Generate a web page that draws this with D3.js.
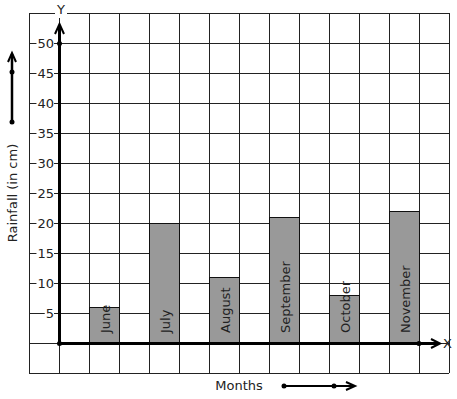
<!DOCTYPE html>
<html>
<head>
<meta charset="utf-8">
<script src="https://cdn.jsdelivr.net/npm/d3@7"></script>
<style>
  body { margin: 0; background: #fff; }
  text { font-family: "DejaVu Sans", sans-serif; font-size: 13px; fill: #222; }
</style>
</head>
<body>
<div id="chart"></div>
<script>
var months = ['June', 'July', 'August', 'September', 'October', 'November'];
var rainfall = [6, 20, 11, 21, 8, 22];
var yTicks = [5, 10, 15, 20, 25, 30, 35, 40, 45, 50];

var width = 457, height = 399;

// grid units: one column = 1 unit, one row = 5 cm
var x = d3.scaleLinear().domain([-1, 13]).range([29, 449]);
var y = d3.scaleLinear().domain([-5, 55]).range([373, 13]);

var svg = d3.select('#chart').append('svg')
    .attr('width', width).attr('height', height);

// grid
var grid = svg.append('g').attr('stroke', '#222').attr('stroke-width', 1).attr('shape-rendering', 'crispEdges');
grid.selectAll('.v').data(d3.range(-1, 14)).enter().append('line')
    .attr('x1', function(d) { return x(d) + 0.5; }).attr('x2', function(d) { return x(d) + 0.5; })
    .attr('y1', y(55)).attr('y2', y(-5));
grid.selectAll('.h').data(d3.range(-5, 56, 5)).enter().append('line')
    .attr('y1', function(d) { return y(d) + 0.5; }).attr('y2', function(d) { return y(d) + 0.5; })
    .attr('x1', x(-1)).attr('x2', x(13));

// bars
svg.selectAll('.bar').data(rainfall).enter().append('rect')
    .attr('class', 'bar')
    .attr('x', function(d, i) { return x(1 + 2 * i) + 0.5; })
    .attr('width', x(1) - x(0))
    .attr('y', function(d) { return y(d) + 0.5; })
    .attr('height', function(d) { return y(0) - y(d); })
    .attr('fill', '#999').attr('stroke', '#111').attr('stroke-width', 1);

// bar labels, rotated
svg.selectAll('.blabel').data(months).enter().append('text')
    .attr('transform', function(d, i) {
	return 'translate(' + (x(1.5 + 2 * i) + 1) + ',' + (y(0) - 10) + ') rotate(-90)';
    })
    .attr('dy', '0.36em')
    .text(function(d) { return d; });

// y tick labels with white backgrounds
var yAxis = svg.append('g').attr('transform', 'translate(54,0)')
    .call(d3.axisLeft(y).tickValues(yTicks).tickSize(0).tickPadding(0));
yAxis.select('.domain').remove();
yAxis.selectAll('text').attr('font-size', 13).attr('font-family', '"DejaVu Sans", sans-serif').attr('fill', '#222');
yAxis.selectAll('.tick').each(function() {
    var t = d3.select(this).select('text');
    var b = t.node().getBBox();
    d3.select(this).insert('rect', 'text')
	.attr('x', b.x - 1).attr('y', -3).attr('width', b.width + 1).attr('height', 6)
	.attr('fill', '#fff');
});

// axes
var ax = svg.append('g').attr('stroke', '#000').attr('stroke-width', 3).attr('fill', 'none');
ax.append('line').attr('x1', x(0) + 0.5).attr('x2', x(0) + 0.5).attr('y1', y(0)).attr('y2', 25);
ax.append('path').attr('stroke-width', 2).attr('d', 'M' + (x(0) - 4) + ',34 L' + (x(0) + 0.5) + ',24 L' + (x(0) + 5) + ',34');
ax.append('line').attr('x1', x(0)).attr('x2', 439).attr('y1', y(0) + 0.5).attr('y2', y(0) + 0.5);
ax.append('path').attr('stroke-width', 2).attr('d', 'M431,' + (y(0) - 4) + ' L440,' + (y(0) + 0.5) + ' L431,' + (y(0) + 5));

var dots = [[x(0) + 0.5, y(0) + 0.5], [x(0) + 0.5, y(50) + 0.5], [x(12), y(0) + 0.5]];
svg.selectAll('.dot').data(dots).enter().append('circle')
    .attr('cx', function(d) { return d[0]; }).attr('cy', function(d) { return d[1]; })
    .attr('r', 2.5).attr('fill', '#000');

// axis letters
var yl = svg.append('g');
yl.append('rect').attr('x', 55).attr('y', 8).attr('width', 12).attr('height', 10).attr('fill', '#fff');
yl.append('text').attr('x', 61).attr('y', 14).attr('text-anchor', 'middle').text('Y');
svg.append('text').attr('x', 443).attr('y', y(0) + 5).text('X');

// y title + arrow
svg.append('text').attr('transform', 'translate(12,193) rotate(-90)')
    .attr('text-anchor', 'middle').attr('dy', '0.36em').text('Rainfall (in cm)');
var la = svg.append('g').attr('stroke', '#000').attr('stroke-width', 2.5).attr('fill', 'none');
la.append('line').attr('x1', 12).attr('x2', 12).attr('y1', 122).attr('y2', 54);
la.append('path').attr('stroke-width', 2).attr('d', 'M8,62 L12,53 L16,62');
svg.selectAll('.ld').data([122, 72]).enter().append('circle')
    .attr('cx', 12).attr('cy', function(d) { return d; }).attr('r', 2.5).attr('fill', '#000');

// x title + arrow
svg.append('text').attr('x', 239).attr('y', 390).attr('text-anchor', 'middle').text('Months');
var ba = svg.append('g').attr('stroke', '#000').attr('stroke-width', 2).attr('fill', 'none');
ba.append('line').attr('x1', 284).attr('x2', 354).attr('y1', 386).attr('y2', 386);
ba.append('path').attr('d', 'M346,382 L355,386 L346,390');
svg.selectAll('.bd').data([284, 334]).enter().append('circle')
    .attr('cx', function(d) { return d; }).attr('cy', 386).attr('r', 2.5).attr('fill', '#000');
</script>
</body>
</html>
